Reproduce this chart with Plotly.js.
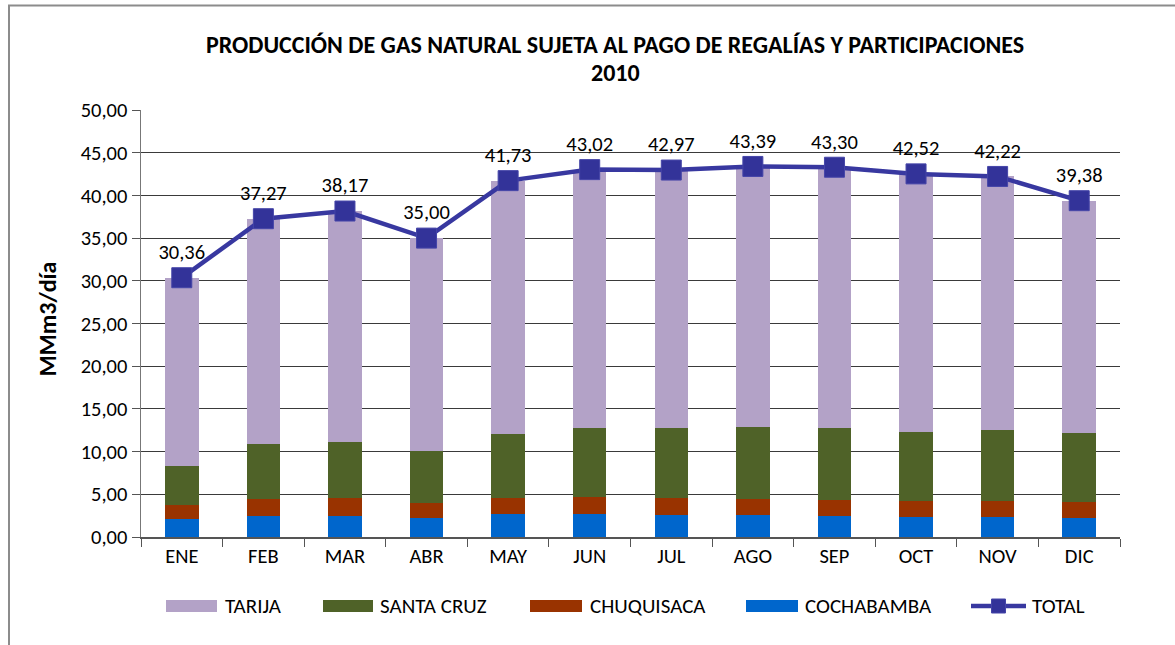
<!DOCTYPE html>
<html>
<head>
<meta charset="utf-8">
<script src="https://cdn.plot.ly/plotly-3.0.1.min.js"></script>
<style>html,body{margin:0;padding:0;background:#fff;}#chart{width:1175px;height:645px;}</style>
</head>
<body>
<div id="chart"></div>
<script>
const months = ['ENE','FEB','MAR','ABR','MAY','JUN','JUL','AGO','SEP','OCT','NOV','DIC'];
const cochabamba = [2.14,2.45,2.49,2.26,2.65,2.73,2.61,2.53,2.49,2.37,2.33,2.26];
const chuquisaca = [1.65,2.04,2.04,1.72,1.96,1.92,1.96,1.92,1.88,1.81,1.89,1.88];
const santaCruz  = [4.54,6.36,6.62,6.08,7.45,8.15,8.23,8.47,8.43,8.08,8.27,8.07];
const tarija     = [22.03,26.42,27.02,24.94,29.67,30.22,30.17,30.47,30.50,30.26,29.73,27.17];
const total      = [30.36,37.27,38.17,35.00,41.73,43.02,42.97,43.39,43.30,42.52,42.22,39.38];
const yTicks = [0,5,10,15,20,25,30,35,40,45,50];
const legendNames = ['TARIJA','SANTA CRUZ','CHUQUISACA','COCHABAMBA','TOTAL'];
const colors = {TARIJA:'#B3A2C7','SANTA CRUZ':'#4F6228',CHUQUISACA:'#993300',COCHABAMBA:'#0066CC',TOTAL:'#3838A0'};
const titleLine1 = 'PRODUCCIÓN DE GAS NATURAL SUJETA AL PAGO DE REGALÍAS Y PARTICIPACIONES';
const titleLine2 = '2010';

const font = 'Calibri, Carlito, "Liberation Sans", Arial, sans-serif';

// plot area geometry (pixels) used to place the hand-made legend and frame
const W = 1175, H = 645, L = 141, R = 55, T = 110, B = 108;
const pw = W - L - R, ph = H - T - B;
const px = x => (x - L) / pw;
const py = y => (H - B - y) / ph;

function bar(name, y){
  return {type:'bar', name:name, x:months, y:y, marker:{color:colors[name], line:{width:0}},
          showlegend:false, hoverinfo:'name+y'};
}
const traces = [
  bar('COCHABAMBA', cochabamba),
  bar('CHUQUISACA', chuquisaca),
  bar('SANTA CRUZ', santaCruz),
  bar('TARIJA', tarija),
  {type:'scatter', mode:'lines+markers+text', name:'TOTAL', x:months, y:total,
   line:{color:colors.TOTAL, width:4.5}, marker:{symbol:'square', size:20, color:'#333399', line:{color:'#4545A8', width:1}},
   text: total.map(v => v.toFixed(2).replace('.', ',')), textposition:'top center',
   textfont:{size:20.5, color:'#000', family:font}, showlegend:false, cliponaxis:false}
];

// custom legend with wide swatches, as in the reference
const legendSwatch = [[166,217],[323,373],[530,582],[746,798],[971,1026]];
const legendText = [223,378,588,803,1030];
const legY = 606;
const shapes = [{type:'path', xref:'paper', yref:'paper',
                 path:`M ${px(9)},${py(700)} L ${px(9)},${py(5.5)} L ${px(1200)},${py(5.5)}`,
                 line:{color:'#8c8c8c', width:2}}];
const annotations = [];
legendNames.forEach((n,i) => {
  const [a,b] = legendSwatch[i];
  if (n === 'TOTAL') {
    shapes.push({type:'line', xref:'paper', yref:'paper', x0:px(a), x1:px(b), y0:py(legY), y1:py(legY),
                 line:{color:colors.TOTAL, width:4.5}});
    shapes.push({type:'rect', xref:'paper', yref:'paper', x0:px((a+b)/2-7), x1:px((a+b)/2+7),
                 y0:py(legY+7), y1:py(legY-7), fillcolor:'#333399', line:{color:'#4545A8', width:1}});
  } else {
    shapes.push({type:'rect', xref:'paper', yref:'paper', x0:px(a), x1:px(b), y0:py(legY+6), y1:py(legY-6),
                 fillcolor:colors[n], line:{width:0}});
  }
  annotations.push({xref:'paper', yref:'paper', x:px(legendText[i]), y:py(legY), xanchor:'left', yanchor:'middle',
                    text:n, showarrow:false, font:{size:21, family:font, color:'#000'}});
});
annotations.push({xref:'paper', yref:'paper', x:px(47), y:0.51, textangle:-90, xanchor:'center', yanchor:'middle',
                  text:'<b>MMm3/día</b>', showarrow:false, font:{size:24, family:font, color:'#000'}});
annotations.push({xref:'paper', yref:'paper', x:px(615), y:py(73), xanchor:'center', yanchor:'middle',
                  text:'<b>' + titleLine2 + '</b>', showarrow:false, font:{size:24, family:font, color:'#000'}});

const layout = {
  width:W, height:H,
  margin:{l:L, r:R, t:T, b:B},
  paper_bgcolor:'#fff', plot_bgcolor:'#fff',
  separators:',.',
  barmode:'stack', bargap:0.59,
  font:{family:font, size:20.5, color:'#000'},
  title:{text:'<b>' + titleLine1 + '</b>',
         font:{size:24, family:font, color:'#000'}, x:615/W, xanchor:'center', y:1-45/H, yanchor:'middle'},
  xaxis:{type:'category', range:[-0.5, 11.5], tickson:'boundaries', ticks:'outside', ticklen:8, tickcolor:'#555',
         showline:true, linecolor:'#555', linewidth:1.5, showgrid:false, automargin:false,
         tickfont:{size:20.5, family:font, color:'#000'}, fixedrange:true},
  yaxis:{range:[0,50], tickvals:yTicks, tickformat:'.2f', ticks:'outside', ticklen:8, tickcolor:'#555',
         showline:true, linecolor:'#777', linewidth:1.5, showgrid:true, gridcolor:'#3a3a3a', gridwidth:1,
         zeroline:false, automargin:false, tickfont:{size:20.5, family:font, color:'#000'}},
  showlegend:false,
  shapes:shapes,
  annotations:annotations
};
Plotly.newPlot('chart', traces, layout, {displayModeBar:false, staticPlot:true});
</script>
</body>
</html>
